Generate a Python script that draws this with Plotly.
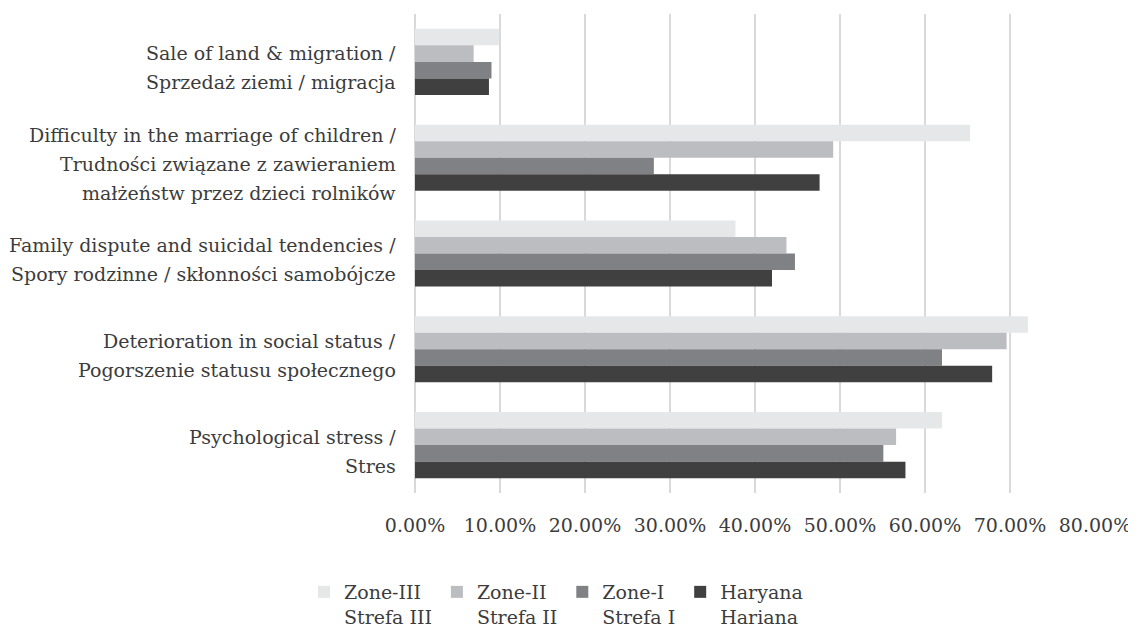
import plotly.graph_objects as go

categories = [
    "Sale of land & migration /<br>Sprzedaż ziemi / migracja",
    "Difficulty in the marriage of children /<br>Trudności związane z zawieraniem <br>małżeństw przez dzieci rolników",
    "Family dispute and suicidal tendencies /<br>Spory rodzinne / skłonności samobójcze",
    "Deterioration in social status /<br>Pogorszenie statusu społecznego",
    "Psychological stress /<br>Stres",
]

series_names = ["Zone-III<br>Strefa III", "Zone-II<br>Strefa II", "Zone-I<br>Strefa I", "Haryana<br>Hariana"]
zone3 = [0.099, 0.653, 0.377, 0.721, 0.620]
zone2 = [0.069, 0.492, 0.437, 0.696, 0.566]
zone1 = [0.090, 0.281, 0.447, 0.620, 0.551]
haryana = [0.087, 0.476, 0.420, 0.679, 0.577]
series_values = [zone3, zone2, zone1, haryana]
colors = ["#E6E7E8", "#BCBDC0", "#808184", "#404040"]

tick_vals = [0, 0.1, 0.2, 0.3, 0.4, 0.5, 0.6, 0.7, 0.8]

font_family = "DejaVu Serif"
text_color = "#3C3C3C"
FS = 19

# page body has an 8px margin; size figure so it fills the 1136x628 window
W, H = 1128, 620

fig = go.Figure()
for name, vals, col in zip(series_names, series_values, colors):
    fig.add_trace(go.Bar(
        y=categories, x=vals, name=name, orientation="h",
        marker=dict(color=col, line=dict(width=0)),
    ))

# category labels, one annotation per line (wider line spacing than tick labels allow)
LINE = 29
annotations = []
for cat in categories:
    lines = cat.split("<br>")
    n = len(lines)
    for i, ln in enumerate(lines):
        annotations.append(dict(
            x=0, xref="paper", y=cat, yref="y",
            text=ln.rstrip(), showarrow=False,
            xanchor="right", yanchor="middle", xshift=-17,
            yshift=-(i - (n - 1) / 2) * LINE - 6,
            font=dict(family=font_family, size=FS, color=text_color),
        ))

fig.update_layout(
    width=W, height=H,
    paper_bgcolor="white", plot_bgcolor="white",
    barmode="group", bargap=0.31, bargroupgap=0,
    margin=dict(l=407, r=41, t=6, b=135, autoexpand=False),
    font=dict(family=font_family, size=FS, color=text_color),
    showlegend=True,
    legend=dict(
        orientation="h", xref="container", yref="container",
        x=296 / W, xanchor="left", y=1 - 565 / H, yanchor="top",
        valign="top", font=dict(family=font_family, size=FS, color=text_color),
        traceorder="normal",
    ),
    annotations=annotations,
)

fig.update_xaxes(
    range=[0, 0.8], tickvals=tick_vals, tickformat=".2%",
    showgrid=True, gridcolor="#D9D9D9", gridwidth=1.5,
    zeroline=True, zerolinecolor="#D9D9D9", zerolinewidth=1.5,
    showline=False, ticks="", ticklabelstandoff=19, automargin=False,
)
fig.update_yaxes(
    autorange="reversed", showgrid=False, zeroline=False, showline=False,
    ticks="", showticklabels=False, automargin=False,
)

fig.write_html("out.html")
